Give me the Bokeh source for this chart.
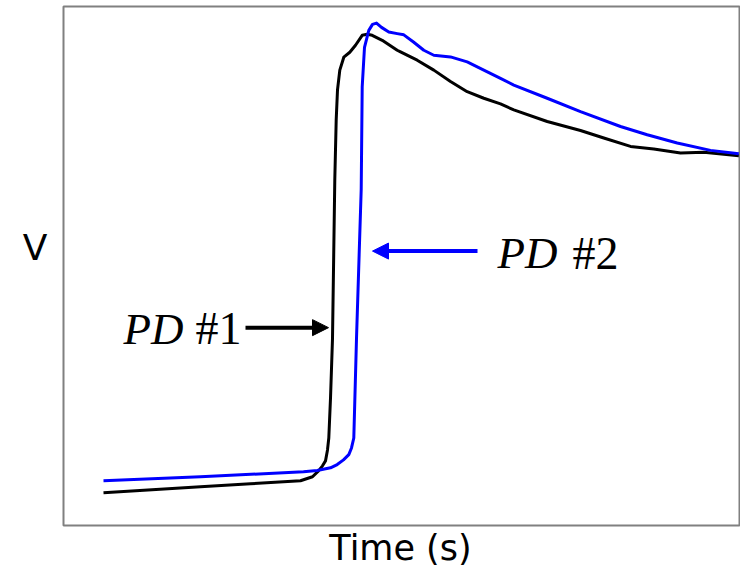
from bokeh.plotting import figure
from bokeh.models import Label, Arrow, NormalHead, Range1d, FixedTicker
from bokeh.embed import file_html
from bokeh.resources import INLINE

# ---- data (arbitrary units) ----
pd1_t = [40, 137, 187, 237, 249, 255, 259, 262, 264, 265.3, 267, 269, 271.3, 272.7,
         274, 276.3, 280.3, 286.3, 292, 298.7, 303.7, 308.7, 318.7, 333.7, 337, 353.7,
         370.3, 387, 403.7, 420.3, 437, 450.3, 483.7, 517, 540.3, 567, 590.3, 617,
         640.3, 675.3]
pd1_v = [33, 39, 42, 45, 49, 55, 60, 65, 76, 88, 128, 188, 348, 408,
         438, 458, 471, 476, 483, 493, 494, 493, 488, 478, 476.3, 468,
         458, 446.5, 436.3, 429.7, 424, 418, 406.3, 397.3, 389.7, 381.3, 378.7, 374.7,
         375.3, 372]

pd2_t = [40, 137, 240, 253.7, 267, 273.7, 280, 285.3, 288, 290.3, 293, 297.7, 298.7,
         301, 305.3, 309, 313, 318, 325.3, 333.7, 340.3, 350.3, 360.3, 370.3, 387,
         403.7, 420.3, 437, 450.3, 483.7, 517, 557, 583.7, 613.7, 647, 675.3]
pd2_v = [45, 49, 54, 55.3, 58, 61.3, 66, 71.3, 78, 88, 188, 338, 441,
         481, 498, 504, 505.3, 501, 496.3, 494.7, 493.5, 486, 478, 473, 471.3,
         466.3, 458, 449.7, 443, 429.7, 416.3, 401.3, 393, 384.7, 377.3, 374]

x_label = "Time (s)"
y_label = "V"
pd1_name = ("PD", "#1")
pd2_name = ("PD", "#2")

# positions of the axis titles (data units)
x_label_pos = 337
y_label_pos = 280

p = figure(width=740, height=570, output_backend="svg", toolbar_location=None,
           x_range=Range1d(0, 676), y_range=Range1d(0, 522),
           min_border_left=63, min_border_right=1, min_border_top=6,
           min_border_bottom=42)
p.grid.visible = False
p.outline_line_color = "#808080"
p.outline_line_width = 2
p.background_fill_color = "white"
p.border_fill_color = "white"

# axes: used only to carry the titles
p.xaxis.ticker = FixedTicker(ticks=[x_label_pos])
p.xaxis.major_label_overrides = {x_label_pos: x_label}
p.yaxis.ticker = FixedTicker(ticks=[y_label_pos])
p.yaxis.major_label_overrides = {y_label_pos: y_label}
for ax in (p.xaxis[0], p.yaxis[0]):
    ax.axis_line_color = None
    ax.major_tick_line_color = None
    ax.minor_tick_line_color = None
    ax.major_label_text_font = "DejaVu Sans"
    ax.major_label_text_color = "black"
    ax.major_tick_out = 0
    ax.major_tick_in = 0
p.xaxis.major_label_text_font_size = "35px"
p.yaxis.major_label_text_font_size = "36px"
p.xaxis.major_label_standoff = 2
p.yaxis.major_label_standoff = 16
p.yaxis.major_label_orientation = "horizontal"

p.line(pd1_t, pd1_v, line_color="black", line_width=3, line_join="round")
p.line(pd2_t, pd2_v, line_color="#0000ff", line_width=3, line_join="round")

# arrows
p.add_layout(Arrow(end=NormalHead(size=16, fill_color="black", line_color="black", line_width=1),
                   x_start=182, y_start=199, x_end=265, y_end=199,
                   line_color="black", line_width=4))
p.add_layout(Arrow(end=NormalHead(size=16, fill_color="#0000ff", line_color="#0000ff", line_width=1),
                   x_start=414, y_start=276, x_end=309, y_end=276,
                   line_color="#0000ff", line_width=4))

serif = "Liberation Serif"
p.add_layout(Label(x=60, y=198, text=pd1_name[0], text_font=serif, text_font_style="italic",
                   text_font_size="45px", text_color="black", text_baseline="alphabetic"))
p.add_layout(Label(x=132, y=198, text=pd1_name[1], text_font=serif,
                   text_font_size="46px", text_color="black", text_baseline="alphabetic"))
p.add_layout(Label(x=434, y=274, text=pd2_name[0], text_font=serif, text_font_style="italic",
                   text_font_size="45px", text_color="black", text_baseline="alphabetic"))
p.add_layout(Label(x=509, y=274, text=pd2_name[1], text_font=serif,
                   text_font_size="46px", text_color="black", text_baseline="alphabetic"))

open("out.html", "w").write(file_html(p, INLINE))
